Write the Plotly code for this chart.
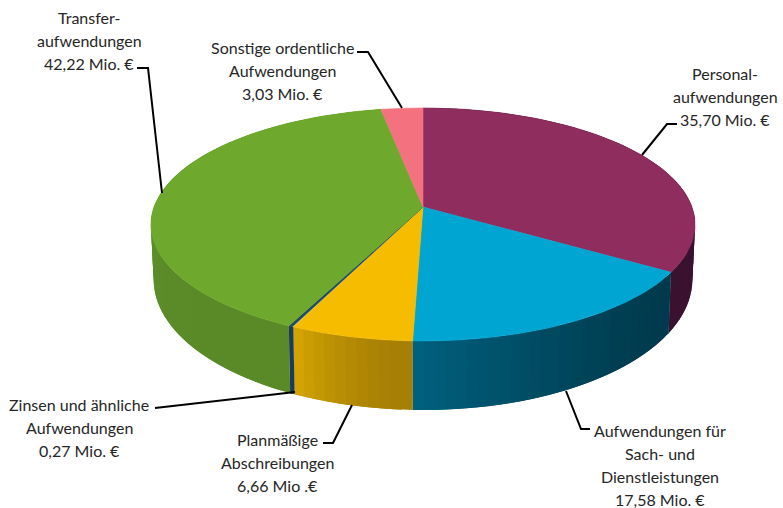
import numpy as np
import plotly.graph_objects as go

# Aufwendungen in Mio. Euro
kategorien = ["Personal", "Sach", "Abschreibungen", "Zinsen", "Transfer", "Sonstige"]
werte = [35.70, 17.58, 6.66, 0.27, 42.22, 3.03]

farben_oben = ["#8f2d5e", "#00a6d1", "#f5bc00", "#1f4a63", "#6ea92d", "#f4727f"]
# Randfarben je Stueck: Anfang und Ende im Uhrzeigersinn
farben_rand = [
    ("#3a1230", "#3a1230"),
    ("#003a4c", "#00617f"),
    ("#a67f05", "#d2a303"),
    ("#1b3a5c", "#1b3a5c"),
    ("#5a8a28", "#659a2c"),
    ("#c05a64", "#c05a64"),
]

beschriftungen = [
    (89, 17, ["Transfer-", "aufwendungen", "42,22 Mio. €"]),
    (282, 47, ["Sonstige ordentliche", "Aufwendungen", "3,03 Mio. €"]),
    (725, 73, ["Personal-", "aufwendungen", "35,70 Mio. €"]),
    (660, 430, ["Aufwendungen für", "Sach- und", "Dienstleistungen", "17,58 Mio. €"]),
    (277, 439, ["Planmäßige", "Abschreibungen", "6,66 Mio .€"]),
    (79, 404, ["Zinsen und ähnliche", "Aufwendungen", "0,27 Mio. €"]),
]

fuehrungslinien = [
    ([137, 148, 162], [68, 68, 193]),
    ([357, 368, 402], [52, 52, 108]),
    ([677, 667, 642], [124, 124, 155]),
    ([590, 581, 566], [429, 429, 391]),
    ([323, 333, 352], [443, 443, 405]),
    ([155, 295], [408, 392]),
]

# Perspektive der Scheibe
mitte_x, mitte_y = 423, 207
R, S, k = 269, 113.9, 0.15
tiefe, S_unten, R_unten = 53, 1.12, 0.99


def oben(winkel):
    u, v = np.sin(winkel), np.cos(winkel)
    w = 1 + k * v
    return mitte_x + R * u / w, mitte_y - S * v / w


def unten(winkel):
    u, v = np.sin(winkel), np.cos(winkel)
    w = 1 + k * v
    return mitte_x + R * R_unten * u / w, mitte_y + tiefe - S * S_unten * v / w


def mische(a, b, t):
    ca = [int(a[i:i + 2], 16) for i in (1, 3, 5)]
    cb = [int(b[i:i + 2], 16) for i in (1, 3, 5)]
    return "rgb(%d,%d,%d)" % tuple(ca[i] + (cb[i] - ca[i]) * t for i in range(3))


def flaeche(x, y, farbe, breite=0.6):
    return go.Scatter(x=list(x), y=list(y), mode="lines", fill="toself", fillcolor=farbe,
                      line=dict(color=farbe, width=breite), hoverinfo="skip", showlegend=False)


grenzen = np.cumsum([0] + werte) / sum(werte) * 2 * np.pi

fig = go.Figure()

# zuerst der Rand, jeder Streifen ragt unter den naechsten, damit keine Fugen bleiben
for i in range(len(werte)):
    start, ende = grenzen[i], grenzen[i + 1]
    if np.cos((start + ende) / 2) > 0.6:
        continue  # hinten, nicht sichtbar
    n = max(2, int((ende - start) / np.radians(2)))
    stufen = np.linspace(start, ende, n + 1)
    for j in range(n):
        bis = stufen[min(j + 2, n)]
        a = np.linspace(stufen[j], bis, 5)
        xo, yo = oben(a)
        xu, yu = unten(a[::-1])
        farbe = mische(farben_rand[i][0], farben_rand[i][1], (j / max(1, n - 1)) ** 1.6)
        fig.add_trace(flaeche(np.r_[xo, xu, xo[0]], np.r_[yo, yu, yo[0]], farbe, 0))

# dann die Oberseite
for i in range(len(werte)):
    a = np.linspace(grenzen[i], grenzen[i + 1], 80)
    xo, yo = oben(a)
    fig.add_trace(flaeche(np.r_[mitte_x, xo, mitte_x], np.r_[mitte_y, yo, mitte_y], farben_oben[i]))

for lx, ly in fuehrungslinien:
    fig.add_trace(go.Scatter(x=lx, y=ly, mode="lines", line=dict(color="black", width=2),
                             hoverinfo="skip", showlegend=False))

for bx, by, zeilen in beschriftungen:
    for nr, zeile in enumerate(zeilen):
        fig.add_annotation(x=bx, y=by + nr * 23, text=zeile, showarrow=False,
                           xanchor="center", yanchor="middle",
                           font=dict(family="Lato", size=16, color="#262626"))

fig.update_xaxes(range=[0, 783], visible=False)
fig.update_yaxes(range=[508, 0], visible=False)
fig.update_layout(width=783, height=508, margin=dict(l=0, r=0, t=0, b=0),
                  paper_bgcolor="white", plot_bgcolor="white", showlegend=False)

# der Browser setzt sonst 8px Rand um die Seite
fig.write_html("out.html", config={"displayModeBar": False},
               post_script="document.body.style.margin='0';")
